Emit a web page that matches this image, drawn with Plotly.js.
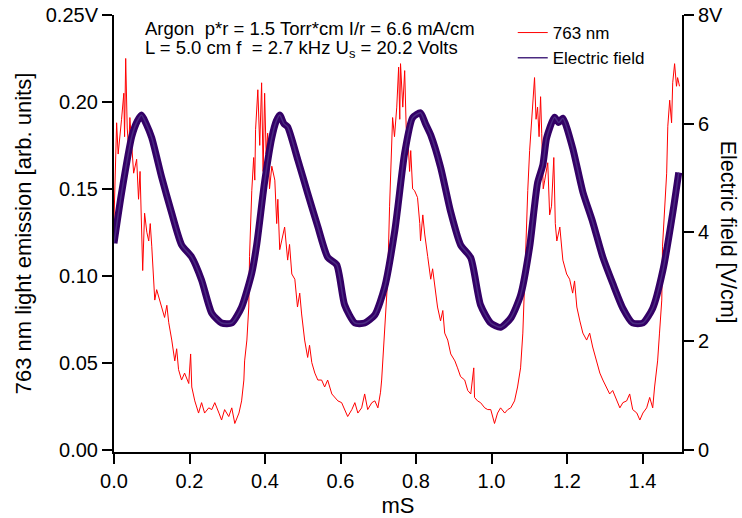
<!DOCTYPE html>
<html>
<head>
<meta charset="utf-8">
<script src="https://cdn.plot.ly/plotly-3.0.1.min.js"></script>
<style>html,body{margin:0;padding:0;background:#fff;}#chart{width:742px;height:518px;}</style>
</head>
<body>
<div id="chart"></div>
<script>
// ---- data ----
// 763 nm light emission (left axis, V)
var emisT = [0.000,0.003,0.007,0.011,0.015,0.020,0.026,0.028,0.031,0.035,0.039,0.042,0.047,0.052,0.060,0.065,0.069,0.073,0.076,0.081,0.087,0.092,0.096,0.100,0.104,0.108,0.113,0.118,0.126,0.134,0.140,0.145,0.153,0.161,0.166,0.171,0.179,0.187,0.198,0.203,0.206,0.214,0.224,0.232,0.240,0.251,0.259,0.267,0.278,0.285,0.293,0.304,0.312,0.320,0.331,0.338,0.344,0.346,0.352,0.357,0.359,0.365,0.370,0.373,0.375,0.381,0.386,0.391,0.395,0.399,0.403,0.407,0.412,0.418,0.426,0.431,0.434,0.439,0.444,0.452,0.460,0.465,0.471,0.479,0.486,0.492,0.497,0.505,0.513,0.518,0.524,0.532,0.540,0.550,0.558,0.566,0.577,0.585,0.593,0.603,0.611,0.619,0.630,0.638,0.646,0.656,0.664,0.672,0.683,0.691,0.699,0.706,0.709,0.712,0.717,0.722,0.725,0.730,0.736,0.738,0.743,0.749,0.754,0.757,0.759,0.765,0.770,0.774,0.778,0.783,0.786,0.791,0.796,0.804,0.810,0.812,0.818,0.823,0.831,0.839,0.844,0.850,0.857,0.865,0.871,0.876,0.884,0.892,0.903,0.910,0.918,0.929,0.937,0.945,0.953,0.955,0.963,0.971,0.982,0.990,0.998,1.008,1.016,1.024,1.035,1.043,1.051,1.061,1.069,1.077,1.083,1.088,1.091,1.096,1.101,1.104,1.109,1.114,1.118,1.122,1.126,1.130,1.133,1.137,1.141,1.149,1.154,1.159,1.165,1.169,1.173,1.181,1.189,1.199,1.207,1.215,1.220,1.226,1.234,1.242,1.252,1.260,1.268,1.279,1.287,1.295,1.305,1.313,1.321,1.332,1.340,1.348,1.358,1.366,1.374,1.385,1.393,1.401,1.411,1.419,1.427,1.432,1.437,1.440,1.445,1.451,1.453,1.459,1.464,1.467,1.472,1.477,1.480,1.485,1.490,1.493,1.498];
var emisV = [0.132,0.160,0.188,0.170,0.178,0.190,0.205,0.180,0.225,0.185,0.172,0.191,0.175,0.159,0.167,0.144,0.160,0.128,0.103,0.136,0.125,0.120,0.130,0.117,0.100,0.086,0.092,0.088,0.082,0.076,0.083,0.073,0.063,0.051,0.058,0.046,0.040,0.044,0.038,0.055,0.036,0.028,0.021,0.027,0.021,0.024,0.023,0.027,0.021,0.017,0.023,0.019,0.024,0.015,0.021,0.028,0.040,0.051,0.063,0.082,0.111,0.149,0.168,0.155,0.184,0.207,0.175,0.211,0.160,0.205,0.170,0.182,0.150,0.163,0.155,0.130,0.144,0.115,0.120,0.128,0.109,0.118,0.101,0.098,0.082,0.090,0.078,0.063,0.053,0.060,0.050,0.044,0.040,0.040,0.036,0.040,0.032,0.030,0.028,0.027,0.023,0.019,0.023,0.027,0.021,0.024,0.032,0.023,0.027,0.028,0.024,0.033,0.040,0.051,0.063,0.082,0.098,0.140,0.178,0.191,0.180,0.197,0.220,0.190,0.222,0.197,0.218,0.185,0.182,0.160,0.172,0.150,0.149,0.145,0.130,0.120,0.135,0.124,0.111,0.098,0.104,0.094,0.082,0.074,0.080,0.067,0.063,0.055,0.051,0.047,0.042,0.040,0.034,0.032,0.047,0.030,0.028,0.027,0.024,0.023,0.023,0.015,0.021,0.024,0.021,0.023,0.024,0.028,0.036,0.047,0.067,0.098,0.120,0.149,0.172,0.182,0.197,0.214,0.190,0.197,0.180,0.203,0.182,0.150,0.155,0.165,0.135,0.140,0.168,0.130,0.120,0.128,0.109,0.101,0.098,0.090,0.097,0.082,0.074,0.067,0.063,0.067,0.059,0.050,0.044,0.040,0.036,0.032,0.034,0.028,0.024,0.027,0.028,0.032,0.023,0.021,0.017,0.021,0.024,0.030,0.024,0.036,0.044,0.051,0.067,0.086,0.117,0.140,0.159,0.186,0.201,0.188,0.211,0.222,0.209,0.214,0.209];
// Electric field (right axis, V/cm)
var fieldT = [0.000,0.020,0.047,0.062,0.073,0.085,0.100,0.126,0.153,0.179,0.206,0.232,0.259,0.285,0.312,0.338,0.365,0.378,0.399,0.418,0.430,0.439,0.450,0.460,0.487,0.513,0.540,0.566,0.590,0.611,0.638,0.664,0.691,0.717,0.744,0.752,0.770,0.791,0.812,0.825,0.839,0.865,0.892,0.918,0.945,0.971,0.998,1.024,1.051,1.077,1.101,1.122,1.136,1.146,1.167,1.178,1.189,1.215,1.242,1.268,1.295,1.321,1.348,1.374,1.401,1.427,1.454,1.480,1.496];
var fieldE = [3.80,4.72,5.76,6.05,6.16,6.00,5.74,5.02,4.35,3.77,3.54,3.12,2.51,2.33,2.33,2.62,3.25,3.77,4.93,5.74,6.05,6.16,6.00,5.94,5.33,4.72,4.10,3.54,3.40,2.66,2.33,2.33,2.48,2.99,4.04,4.47,5.46,6.11,6.20,6.00,5.79,5.20,4.37,3.77,3.53,2.66,2.33,2.25,2.42,2.84,3.73,4.91,5.24,5.74,6.12,6.02,6.10,5.55,4.74,4.19,3.54,3.06,2.60,2.33,2.33,2.60,3.30,4.35,5.10];
// axis ticks
var xTicks = [0,0.2,0.4,0.6,0.8,1.0,1.2,1.4];
var xTickText = ['0.0','0.2','0.4','0.6','0.8','1.0','1.2','1.4'];
var yTicks = [0,0.05,0.10,0.15,0.20,0.25];
var yTickText = ['0.00','0.05','0.10','0.15','0.20','0.25V'];
var y2Ticks = [0,2,4,6,8];
var y2TickText = ['0','2','4','6','8V'];

var FONT = 'Arial, "Liberation Sans", Helvetica, sans-serif';
var PURPLE = '#330066';

var traces = [
  {x: fieldT, y: fieldE, yaxis: 'y2', type: 'scatter', mode: 'lines', name: 'Electric field',
   line: {color: PURPLE, width: 7, shape: 'spline', smoothing: 0.6}, showlegend: false, hoverinfo: 'skip'},
  {x: fieldT, y: fieldE, yaxis: 'y2', type: 'scatter', mode: 'lines', name: 'Electric field',
   line: {color: '#4a2a80', width: 1.5, shape: 'spline', smoothing: 0.6}, showlegend: true, legendrank: 2},
  {x: emisT, y: emisV, yaxis: 'y', type: 'scatter', mode: 'lines', name: '763 nm',
   line: {color: '#ff0000', width: 1}, showlegend: true, legendrank: 1}
];

var axisCommon = {
  showline: true, linewidth: 2, linecolor: '#000', ticks: 'outside', ticklen: 10, tickwidth: 2,
  tickcolor: '#000', showgrid: false, zeroline: false, tickfont: {family: FONT, size: 20, color: '#000'}
};

var layout = {
  width: 742, height: 518,
  margin: {l: 114, r: 60, t: 15, b: 66, pad: 0},
  paper_bgcolor: '#fff', plot_bgcolor: '#fff',
  font: {family: FONT, color: '#000'},
  showlegend: true,
  legend: {x: 0.702, y: 1.0, xanchor: 'left', yanchor: 'top', bgcolor: 'rgba(0,0,0,0)',
           font: {family: FONT, size: 17, color: '#000'}, tracegroupgap: 0},
  xaxis: Object.assign({}, axisCommon, {
    range: [0, 1.5046], tickmode: 'array', tickvals: xTicks, ticktext: xTickText,
    title: {text: 'mS', font: {family: FONT, size: 22, color: '#000'}, standoff: 11}
  }),
  yaxis: Object.assign({}, axisCommon, {
    range: [-0.0014, 0.25], tickmode: 'array', tickvals: yTicks, ticktext: yTickText,
    title: {text: '763 nm light emission [arb. units]', font: {family: FONT, size: 22, color: '#000'}, standoff: 8}
  }),
  yaxis2: Object.assign({}, axisCommon, {
    overlaying: 'y', side: 'right', range: [-0.0448, 8], tickmode: 'array', tickvals: y2Ticks, ticktext: y2TickText
  }),
  annotations: [
    {xref: 'paper', yref: 'paper', x: 1.08, y: 0.503, text: 'Electric field [V/cm]', textangle: 90,
     showarrow: false, xanchor: 'center', yanchor: 'middle', font: {family: FONT, size: 21.5, color: '#000'}},
    {xref: 'paper', yref: 'paper', x: 0.051, y: 0.9686, text: 'Argon  p*r = 1.5 Torr*cm I/r = 6.6 mA/cm',
     showarrow: false, xanchor: 'left', yanchor: 'middle', font: {family: FONT, size: 18.5, color: '#000'}},
    {xref: 'paper', yref: 'paper', x: 0.051, y: 0.922, text: 'L = 5.0 cm f  = 2.7 kHz U<sub>s</sub> = 20.2 Volts',
     showarrow: false, xanchor: 'left', yanchor: 'middle', font: {family: FONT, size: 18.5, color: '#000'}}
  ]
};

Plotly.newPlot('chart', traces, layout, {displayModeBar: false, staticPlot: true});
</script>
</body>
</html>
